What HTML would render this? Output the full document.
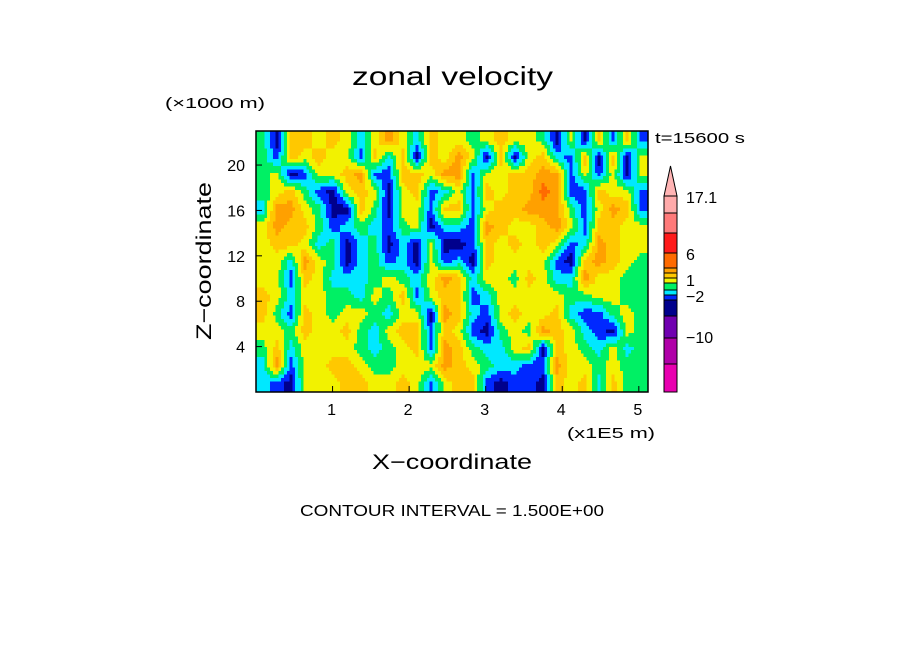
<!DOCTYPE html>
<html><head><meta charset="utf-8"><style>
body{margin:0;background:#fff;width:904px;height:654px;overflow:hidden}
svg{display:block}
text{font-family:"Liberation Sans",sans-serif;fill:#000}
</style></head><body>
<svg id="chart" width="904" height="654" viewBox="0 0 904 654">
<text x="352" y="85" font-size="26" textLength="201" lengthAdjust="spacingAndGlyphs">zonal velocity</text>
<text x="165" y="108" font-size="15" textLength="100" lengthAdjust="spacingAndGlyphs">(×1000 m)</text>
<text x="655" y="143" font-size="15" textLength="90" lengthAdjust="spacingAndGlyphs">t=15600 s</text>
<g id="field" shape-rendering="crispEdges"></g>
<rect x="256" y="131" width="392" height="261" fill="none" stroke="#000" stroke-width="1.5"/>
<g id="ticks"></g>
<text x="567" y="438" font-size="15" textLength="88" lengthAdjust="spacingAndGlyphs">(x1E5 m)</text>
<text x="372" y="469" font-size="21" textLength="160" lengthAdjust="spacingAndGlyphs">X−coordinate</text>
<text x="0" y="0" font-size="21" textLength="158" lengthAdjust="spacingAndGlyphs" transform="translate(211 340) rotate(-90)">Z−coordinate</text>
<text x="300" y="516" font-size="16" textLength="304" lengthAdjust="spacingAndGlyphs">CONTOUR INTERVAL = 1.500E+00</text>
<g id="colorbar"></g>
</svg>
<script>
const xTicks=[1,2,3,4,5];
const yTicks=[4,8,12,16,20];
const xMax=5.12, zMax=23;
const levelColors=["#00008c","#0028ff","#00e8ff","#00f064","#f2f200","#ffc800","#ffa000","#ff6a00"];
const velocityRows=[
[0,-4.5,3,3,1.5,3,1.5,-1.5,1.5,4.5,1.5,-1.5,3,1.5, 1.5,0,1.5,3,1.5,1.5,0,-4.5,1.5,-4.5,3,-3,3,-3],
[0,-3,3,1.5,3,1.5,1.5,-3,3,-1.5,3,-4.5,3,1.5, 4.5,1.5,-4.5,3,-4.5,1.5,3,-1.5,-3,3,-4.5,3,-4.5,1.5],
[0,1.5,-4.5,-3,1.5,1.5,3,4.5,-3,-3,3,3,1.5,4.5, 4.5,-3,1.5,1.5,3,3,4.5,4.5,-3,1.5,-3,1.5,-4.5,1.5],
[0,1.5,3,0,-3,-4.5,1.5,3,1.5,-4.5,1.5,3,-3,-1.5, 1.5,-3,3,1.5,3,3,6,4.5,-3,-3,3,1.5,1.5,-3],
[-1.5,4.5,4.5,1.5,0,-4.5,-4.5,3,0,-4.5,1.5,1.5,-3,3, 3,-3,1.5,3,3,4.5,4.5,4.5,0,-3,1.5,4.5,3,-3],
[1.5,4.5,3,3,0,-3,-1.5,0,-1.5,-3,0,1.5,-4.5,-1.5, -1.5,-3,4.5,3,1.5,1.5,3,4.5,1.5,-3,3,3,1.5,1.5],
[1.5,3,3,1.5,-1.5,0,-4.5,-1.5,0,-4.5,-1.5,-4.5,1.5,-4.5, -4.5,-3,3,1.5,3,1.5,3,1.5,-3,-1.5,4.5,3,1.5,1.5],
[1.5,1.5,-1.5,4.5,1.5,0,-4.5,-1.5,0,-3,-1.5,-4.5,1.5,-3, -1.5,-4.5,3,1.5,1.5,1.5,1.5,-3,-4.5,3,4.5,3,1.5,0],
[1.5,1.5,-3,3,1.5,-1.5,-1.5,-1.5,0,1.5,0,-1.5,1.5,4.5, 3,-1.5,1.5,1.5,0,3,1.5,-1.5,-1.5,4.5,1.5,1.5,0,0],
[3,1.5,-1.5,1.5,1.5,0,0,-1.5,1.5,0,3,-3,1.5,3, 3,-3,-1.5,1.5,1.5,1.5,1.5,1.5,0,0,1.5,1.5,0,0],
[3,0,-3,3,1.5,0,1.5,1.5,0,-1.5,1.5,1.5,-4.5,4.5, 3,-1.5,-3,1.5,3,1.5,1.5,3,-1.5,-3,-3,0,1.5,0],
[1.5,1.5,0,3,1.5,1.5,3,0,-1.5,1.5,3,3,-3,3, 1.5,-3,-4.5,0,1.5,0,4.5,3,1.5,-1.5,-3,-4.5,1.5,0],
[0,3,-1.5,1.5,1.5,1.5,1.5,0,-1.5,0,1.5,3,-3,4.5, 3,0,-1.5,-1.5,1.5,3,-4.5,3,1.5,0,-1.5,1.5,-1.5,0],
[-1.5,4.5,-3,1.5,1.5,3,3,1.5,0,0,1.5,1.5,1.5,4.5, 3,1.5,0,-1.5,-1.5,-3,-3,4.5,1.5,1.5,0,1.5,0,0],
[-1.5,-3,-4.5,1.5,1.5,1.5,3,3,1.5,1.5,3,1.5,-3,1.5, 3,3,-3,-4.5,-3,-3,-4.5,3,1.5,3,-1.5,3,0,0]
];
const cbColors=["#e800b0","#b000a8","#7000b0","#00008c","#0028ff","#00e8ff","#00f064","#f2f200","#ffc800","#ffa000","#ff6a00","#ff1a1a","#ff7a7a","#ffaaaa"];
const cbBounds=[392,364,338,316,300,295,290,283,278,273,268,253,233,213,196];
const cbLabels=["17.1","6","1","−2","−10"];
const cbLabelY=[203,260,286,302,343];

const NS="http://www.w3.org/2000/svg";
const X0=256,X1=648,Y0=392,Y1=131;
const sx=v=>X0+v/xMax*(X1-X0);
const sz=v=>Y0-v/zMax*(Y0-Y1);
function mk(t,a,p){const e=document.createElementNS(NS,t);for(const k in a)e.setAttribute(k,a[k]);p.appendChild(e);return e;}
function colorOf(v){let i=Math.floor((v+5.25)/1.5);i=Math.max(0,Math.min(levelColors.length-1,i));return levelColors[i];}

const field=document.getElementById('field');
const nr=velocityRows.length,nc=velocityRows[0].length;
function sample(fr,fc){ // fractional row/col in cell-center coordinates
  fr=Math.max(0,Math.min(nr-1,fr));fc=Math.max(0,Math.min(nc-1,fc));
  const r0=Math.floor(fr),c0=Math.floor(fc),r1=Math.min(nr-1,r0+1),c1=Math.min(nc-1,c0+1);
  const a=fr-r0,b=fc-c0;
  const top=velocityRows[r0][c0]*(1-b)+velocityRows[r0][c1]*b;
  const bot=velocityRows[r1][c0]*(1-b)+velocityRows[r1][c1]*b;
  return top*(1-a)+bot*a;
}
const SUB=5;
for(let i=0;i<nr*SUB;i++){
  for(let j=0;j<nc*SUB;j++){
    const v=sample((i+0.5)/SUB-0.5,(j+0.5)/SUB-0.5);
    const xa=sx(j*xMax/(nc*SUB)),xb=sx((j+1)*xMax/(nc*SUB));
    const za=sz(zMax-i*zMax/(nr*SUB)),zb=sz(zMax-(i+1)*zMax/(nr*SUB));
    const e=mk('rect',{x:xa.toFixed(2),y:za.toFixed(2),width:(xb-xa+0.5).toFixed(2),height:(zb-za+0.5).toFixed(2),fill:colorOf(v)},field);
    
    
  }
}

const tk=document.getElementById('ticks');
xTicks.forEach(t=>{
  const l=mk('line',{x1:sx(t),x2:sx(t),y1:392,y2:386,stroke:'#000'},tk);
  
  
  const e=mk('text',{x:sx(t)-1,y:415,'font-size':16,'text-anchor':'middle'},tk);e.textContent=t;
  
  
});
yTicks.forEach(t=>{
  const l=mk('line',{x1:256,x2:262,y1:sz(t),y2:sz(t),stroke:'#000'},tk);
  
  
  const e=mk('text',{x:245,y:sz(t)+6,'font-size':16,'text-anchor':'end'},tk);e.textContent=t;
  
  
});

const cb=document.getElementById('colorbar');
cbColors.forEach((c,i)=>{
  const e=mk('rect',{x:664,y:cbBounds[i+1],width:13,height:cbBounds[i]-cbBounds[i+1],fill:c,stroke:'#000','stroke-width':1},cb);
  
  
});
const tri=mk('polygon',{points:'664,196 677,196 670.5,166',fill:'#ffb4b4',stroke:'#000','stroke-width':1},cb);


cbLabels.forEach((s,i)=>{
  const e=mk('text',{x:686,y:cbLabelY[i],'font-size':16},cb);e.textContent=s;
  
  
});
</script>
</body></html>
